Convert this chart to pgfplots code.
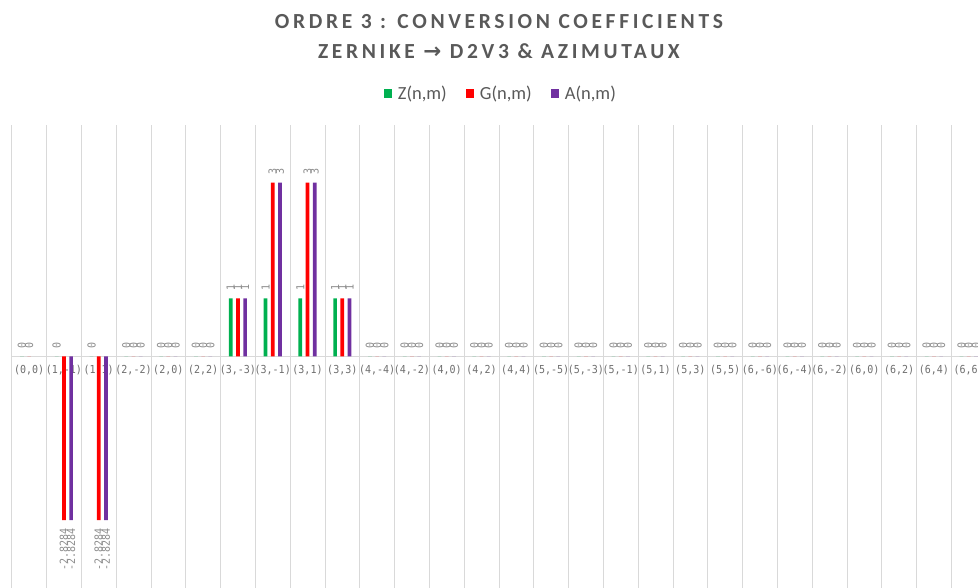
\documentclass[border=0pt]{standalone}
\usepackage{fontspec}
\usepackage{pgfplots}
\pgfplotsset{compat=1.18}
\setmainfont{Carlito}
\newfontfamily\titlefont[LetterSpace=17]{Carlito}
\newfontfamily\arrowfont{DejaVu Sans}
\newfontfamily\monofont[FakeStretch=0.91]{DejaVu Sans Mono}
\definecolor{zgreen}{HTML}{00B050}
\definecolor{gred}{HTML}{FF0000}
\definecolor{apurple}{HTML}{7030A0}
\definecolor{titlegray}{HTML}{595959}
\definecolor{tickgray}{HTML}{6F6F6F}
\definecolor{lblgray}{HTML}{8C8C8C}
\definecolor{gridgray}{HTML}{D9D9D9}

\pgfplotsset{
  pos/.style={nodes near coords style={anchor=west}},
  neg/.style={nodes near coords style={anchor=east}, forget plot},
}

\begin{document}
\begin{tikzpicture}
  \begin{axis}[
    set layers,
    at={(11.7bp,0bp)}, anchor=south west,
    scale only axis, width=974.4bp, height=463.3bp,
    ybar, bar width=3.7bp,
    xmin=-0.5, xmax=27.5, ymin=-4, ymax=4,
    axis x line*=middle, axis y line=none,
    axis line style={-, draw=gridgray, line width=1bp},
    hide obscured x ticks=false,
    xtick={0,...,27},
    minor xtick={-0.5,0.5,...,27.5},
    xminorgrids=true,
    minor grid style={draw=gridgray, line width=0.8bp},
    major tick length=0pt, minor tick length=0pt,
    ytick=\empty,
    xticklabels={{(0,0)},{(1,-1)},{(1,1)},{(2,-2)},{(2,0)},{(2,2)},{(3,-3)},{(3,-1)},{(3,1)},{(3,3)},{(4,-4)},{(4,-2)},{(4,0)},{(4,2)},{(4,4)},{(5,-5)},{(5,-3)},{(5,-1)},{(5,1)},{(5,3)},{(5,5)},{(6,-6)},{(6,-4)},{(6,-2)},{(6,0)},{(6,2)},{(6,4)},{(6,6)}},
    xticklabel style={font=\monofont\fontsize{11bp}{12bp}\selectfont, text=tickgray, anchor=north, inner sep=0pt, yshift=-9bp},
    title={ORDRE 3 : CONVERSION COEFFICIENTS\\ZERNIKE {\arrowfont →} D2V3 \& AZIMUTAUX},
    title style={font=\titlefont\bfseries\fontsize{21.5bp}{29.5bp}\selectfont, text=titlegray, align=center, inner sep=0pt, at={(axis description cs:0.5,1.177)}, anchor=center},
    legend columns=-1,
    legend style={at={(axis description cs:0.502,1.068)}, anchor=center, draw=none, fill=none,
      font=\fontsize{18.5bp}{20bp}\selectfont, text=titlegray,
      /tikz/every odd column/.append style={column sep=4bp},
      /tikz/every even column/.append style={column sep=17bp}},
    legend image code/.code={\fill[#1] (0bp,-4.5bp) rectangle (8bp,4.5bp);},
    nodes near coords={\pgfmathprintnumber[fixed,precision=4,assume math mode=true]{\pgfplotspointmeta}},
    nodes near coords style={rotate=90, inner xsep=8bp, inner ysep=0pt, font=\monofont\fontsize{11bp}{12bp}\selectfont, text=lblgray},
  ]
    % Z(n,m)
    \addplot[fill=zgreen, draw=none, bar shift=-7.2bp, pos] coordinates {
      (0,0) (1,0) (2,0) (3,0) (4,0) (5,0) (6,1) (7,1) (8,1) (9,1)
      (10,0) (11,0) (12,0) (13,0) (14,0) (15,0) (16,0) (17,0) (18,0) (19,0)
      (20,0) (21,0) (22,0) (23,0) (24,0) (25,0) (26,0) (27,0)};
    \addlegendentry{Z(n,m)}
    % G(n,m)
    \addplot[fill=gred, draw=none, bar shift=0bp, pos] coordinates {
      (0,0) (3,0) (4,0) (5,0) (6,1) (7,3) (8,3) (9,1)
      (10,0) (11,0) (12,0) (13,0) (14,0) (15,0) (16,0) (17,0) (18,0) (19,0)
      (20,0) (21,0) (22,0) (23,0) (24,0) (25,0) (26,0) (27,0)};
    \addlegendentry{G(n,m)}
    % A(n,m)
    \addplot[fill=apurple, draw=none, bar shift=7.2bp, pos] coordinates {
      (3,0) (4,0) (5,0) (6,1) (7,3) (8,3) (9,1)
      (10,0) (11,0) (12,0) (13,0) (14,0) (15,0) (16,0) (17,0) (18,0) (19,0)
      (20,0) (21,0) (22,0) (23,0) (24,0) (25,0) (26,0) (27,0)};
    \addlegendentry{A(n,m)}
    % negative values
    \addplot[fill=gred, draw=none, bar shift=0bp, neg] coordinates {(1,-2.8284) (2,-2.8284)};
    \addplot[fill=apurple, draw=none, bar shift=7.2bp, neg] coordinates {(1,-2.8284) (2,-2.8284)};
  \end{axis}
  \pgfresetboundingbox
  \useasboundingbox (0bp,0bp) rectangle (978bp,588bp);
\end{tikzpicture}
\end{document}
